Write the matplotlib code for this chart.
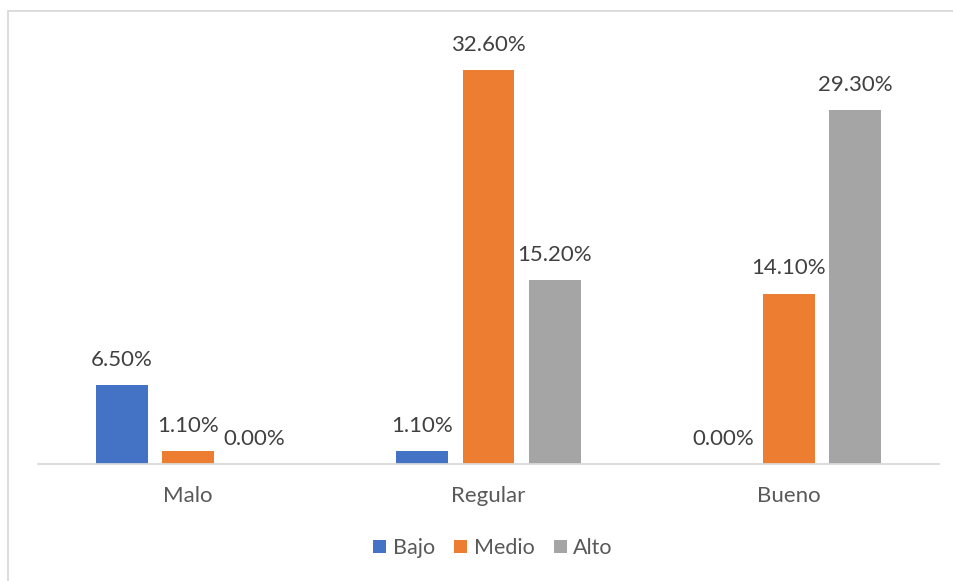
import numpy as np
import matplotlib.pyplot as plt
from matplotlib.patches import Rectangle

plt.rcParams['font.family'] = ['Lato', 'DejaVu Sans']

categorias = ['Malo', 'Regular', 'Bueno']
series = ['Bajo', 'Medio', 'Alto']
bajo = [6.5, 1.1, 0.0]
medio = [1.1, 32.6, 14.1]
alto = [0.0, 15.2, 29.3]
colores = ['#4472C4', '#ED7D31', '#A5A5A5']

fig = plt.figure(figsize=(9.54, 5.81), dpi=100)
# chart frame (the right and bottom sides run off the canvas)
fig.patches.append(Rectangle((8 / 954, -0.1), 1.2, 1 - 11 / 581 + 0.1,
                             transform=fig.transFigure, fill=False,
                             edgecolor='#D9D9D9', linewidth=1.3))

ax = fig.add_axes([38 / 954, 1 - 464 / 581, 901 / 954, 423 / 581])
x = np.arange(len(categorias))
ancho = 0.173
paso = 0.22
for i, (nombre, valores) in enumerate(zip(series, [bajo, medio, alto])):
    pos = x + (i - 1) * paso
    ax.bar(pos, valores, ancho, color=colores[i], label=nombre, zorder=2)
    for px, v in zip(pos, valores):
        ax.text(px, v + 1.25, f'{v:.2f}%', ha='center', va='bottom',
                fontsize=16, color='#404040')

ax.set_xlim(-0.5, 2.5)
ax.set_ylim(0, 35)
ax.set_yticks([])
ax.set_xticks(x)
ax.set_xticklabels(categorias, fontsize=16, color='#595959')
ax.tick_params(axis='x', length=0, pad=16)
for s in ['top', 'right', 'left']:
    ax.spines[s].set_visible(False)
ax.spines['bottom'].set_color('#D9D9D9')
ax.spines['bottom'].set_linewidth(1.3)

fig.legend(loc='center', bbox_to_anchor=(493 / 954, 1 - 548 / 581), ncol=3,
           frameon=False, fontsize=15.5, handlelength=0.6, handleheight=0.6,
           handletextpad=0.3, columnspacing=0.9, labelcolor='#595959')

fig.savefig('out.png', dpi=100)
